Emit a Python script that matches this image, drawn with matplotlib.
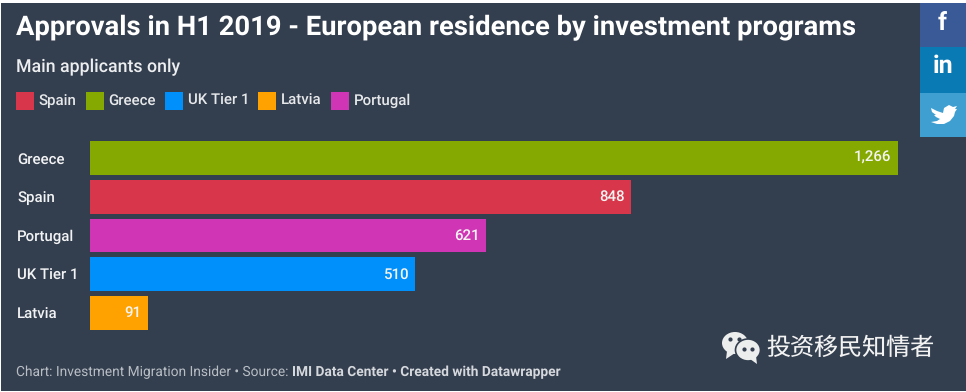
import matplotlib
matplotlib.use("Agg")
import matplotlib.pyplot as plt
from matplotlib.patches import Rectangle, Ellipse, Polygon

categories = ["Greece", "Spain", "Portugal", "UK Tier 1", "Latvia"]
values = [1266, 848, 621, 510, 91]
colors = ["#85a900", "#d8364a", "#d035b5", "#0090fb", "#ffa200"]
legend_names = ["Spain", "Greece", "UK Tier 1", "Latvia", "Portugal"]
legend_colors = ["#d8364a", "#85a900", "#0090fb", "#ffa200", "#d035b5"]
legend_box_x = [16, 86, 165, 258, 331]
title = "Approvals in H1 2019 - European residence by investment programs"
subtitle = "Main applicants only"
watermark = "投资移民知情者"

W, H = 966, 392
BG = "#333e4e"
plt.rcParams["font.family"] = ["Roboto", "DejaVu Sans"]
plt.rcParams["text.hinting"] = "no_hinting"
plt.rcParams["text.hinting_factor"] = 8
fig = plt.figure(figsize=(W / 100, H / 100), dpi=100, facecolor="white")

# overlay in pixel coordinates
ov = fig.add_axes([0, 0, 1, 1], zorder=0)
ov.set_xlim(0, W); ov.set_ylim(H, 0); ov.axis("off")
ov.add_patch(Rectangle((1, 3), W - 1, H - 4, fc=BG, ec="none"))

# bars
top, bottom, left, right = 138.6, 332.4, 90, 898
ax = fig.add_axes([left / W, 1 - bottom / H, (right - left) / W, (bottom - top) / H], zorder=2)
ax.patch.set_alpha(0)
ypos = list(range(len(values)))
ax.barh(ypos, values, height=0.877, color=colors)
ax.set_xlim(0, 1266)
ax.set_ylim(len(values) - 0.5, -0.5)
ax.set_yticks(ypos, categories)
ax.set_xticks([])
for s in ax.spines.values():
    s.set_visible(False)
ax.tick_params(axis="y", length=0, pad=0, labelcolor="#f2f3f4", labelsize=10.8)
for lab in ax.get_yticklabels():
    lab.set_horizontalalignment("left")
    lab.set_verticalalignment("center_baseline")
    lab.set_x(-73 / (right - left))
    lab.set_fontweight(500)
for y, v in zip(ypos, values):
    ax.annotate(f"{v:,}", (v, y), xytext=(-4.6, 0), textcoords="offset points", ha="right",
                va="center", color="#f4f4f2", fontsize=10.8, fontweight=500)

# heading
ov.text(16, 28, title, color="white", fontsize=19.7, fontweight="bold", va="center", ha="left")
ov.text(16, 67, subtitle, color="#eceef0", fontsize=12.8, fontweight=500, va="center", ha="left")

# legend
for name, c, x in zip(legend_names, legend_colors, legend_box_x):
    ov.add_patch(Rectangle((x, 92), 18, 18, fc=c, ec="none"))
    ov.text(x + 22.5, 101, name, color="#e6e8ea", fontsize=10.8, fontweight=500, va="center", ha="left")

# social buttons
ov.add_patch(Rectangle((920, 3), 46, 44, fc="#3a5a97", ec="none"))
ov.add_patch(Rectangle((920, 47), 46, 46, fc="#0a7ab5", ec="none"))
ov.add_patch(Rectangle((920, 93), 46, 44, fc="#3f9fd0", ec="none"))
ov.text(942.5, 23, "f", color="white", fontsize=18, fontweight="bold", ha="center", va="center")
ov.text(942.5, 66, "in", color="white", fontsize=18, fontweight="bold", ha="center", va="center")
bird = [(931, 108), (937, 111), (943, 113), (944, 108), (949, 105), (953, 107), (957, 106),
        (955, 109), (957, 109), (955, 112), (954, 116), (950, 121), (944, 124), (937, 124),
        (931, 122), (937, 121), (940, 119), (936, 117), (934, 115), (936, 115), (932, 112)]
ov.add_patch(Polygon(bird, closed=True, fc="white", ec="none"))

# watermark
ov.add_patch(Ellipse((735, 343), 26, 22, fc="#eceded", ec="none"))
ov.add_patch(Polygon([(727, 351), (726, 359), (735, 353)], fc="#eceded", ec="none"))
ov.add_patch(Ellipse((748, 350), 25, 22, fc="#eceded", ec=BG, lw=1.2, zorder=3))
ov.add_patch(Polygon([(750, 359), (757, 364), (756, 356)], fc="#eceded", ec="none", zorder=3))
ov.plot([730, 739], [339, 339], ls="none", marker="o", ms=2, color="#333e4e", zorder=4)
ov.plot([744, 752], [349, 349], ls="none", marker="o", ms=2, color="#333e4e", zorder=4)
ov.text(766, 348, watermark, color="#f2f2f2", fontsize=17.3, va="center", ha="left",
        family=["Noto Sans CJK SC", "DejaVu Sans"])

# footer
fc = "#b9bec5"
t1 = ov.text(16, 372, "Chart: Investment Migration Insider • Source: ", color=fc, fontsize=9.9, va="center", ha="left")
fig.canvas.draw()
x1 = t1.get_window_extent().x1
ov.text(x1, 372, "IMI Data Center • Created with Datawrapper", color="#d5d8dc", fontsize=9.9,
        fontweight="bold", va="center", ha="left")

fig.savefig("out.png", dpi=100, facecolor="white")
